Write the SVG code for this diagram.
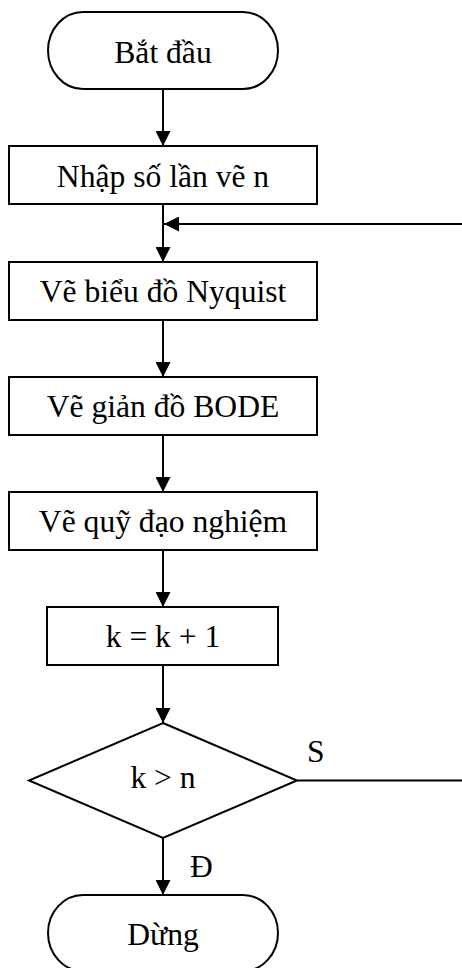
<svg xmlns="http://www.w3.org/2000/svg" width="462" height="968" viewBox="0 0 462 968">
  <style>
    .shape { fill: #ffffff; stroke: #000000; stroke-width: 2; }
    .label { font-family: "Liberation Serif", "Times New Roman", serif; font-size: 31.6px; fill: #000000; text-anchor: middle; }
    .tag { font-family: "Liberation Serif", "Times New Roman", serif; font-size: 31.6px; fill: #000000; }
    .wire { fill: none; stroke: #000000; stroke-width: 2; }
  </style>
  <defs>
    <marker id="arrow" markerUnits="userSpaceOnUse" markerWidth="15" markerHeight="15" refX="15" refY="7.5" orient="auto">
      <path d="M0,0 L15,7.5 L0,15 z" fill="#000000"/>
    </marker>
  </defs>

  <rect width="462" height="968" fill="#ffffff"/>

  <!-- connectors -->
  <g id="connectors">
    <line class="wire" x1="163" y1="89" x2="163" y2="146" marker-end="url(#arrow)"/>
    <line class="wire" x1="163" y1="204" x2="163" y2="262" marker-end="url(#arrow)"/>
    <line class="wire" x1="163" y1="320" x2="163" y2="377" marker-end="url(#arrow)"/>
    <line class="wire" x1="163" y1="435" x2="163" y2="492" marker-end="url(#arrow)"/>
    <line class="wire" x1="163" y1="550" x2="163" y2="607" marker-end="url(#arrow)"/>
    <line class="wire" x1="163" y1="665" x2="163" y2="723" marker-end="url(#arrow)"/>
    <line class="wire" x1="163" y1="838" x2="163" y2="895" marker-end="url(#arrow)"/>
    <line class="wire" x1="297" y1="780.5" x2="462" y2="780.5"/>
    <line class="wire" x1="462" y1="224" x2="164" y2="224" marker-end="url(#arrow)"/>
    <text class="tag" x="307" y="762">S</text>
    <text class="tag" x="190" y="877">Đ</text>
  </g>

  <g id="start">
    <rect class="shape" x="48" y="12" width="230" height="77" rx="35" ry="38.5"/>
    <text class="label" x="163" y="63">Bắt đầu</text>
  </g>

  <g id="input-n">
    <rect class="shape" x="9" y="146" width="308" height="58"/>
    <text class="label" x="163" y="187">Nhập số lần vẽ n</text>
  </g>

  <g id="nyquist">
    <rect class="shape" x="9" y="262" width="308" height="58"/>
    <text class="label" x="163" y="302">Vẽ biểu đồ Nyquist</text>
  </g>

  <g id="bode">
    <rect class="shape" x="9" y="377" width="308" height="58"/>
    <text class="label" x="163" y="417">Vẽ giản đồ BODE</text>
  </g>

  <g id="root-locus">
    <rect class="shape" x="9" y="492" width="308" height="58"/>
    <text class="label" x="163" y="532">Vẽ quỹ đạo nghiệm</text>
  </g>

  <g id="increment">
    <rect class="shape" x="47" y="607" width="231" height="58"/>
    <text class="label" x="163" y="647">k = k + 1</text>
  </g>

  <g id="check">
    <polygon class="shape" points="163,723 297,780.5 163,838 29,780.5"/>
    <text class="label" x="163" y="788">k &gt; n</text>
  </g>

  <g id="stop">
    <rect class="shape" x="48" y="895" width="230" height="76" rx="35" ry="38"/>
    <text class="label" x="163" y="945">Dừng</text>
  </g>
</svg>
